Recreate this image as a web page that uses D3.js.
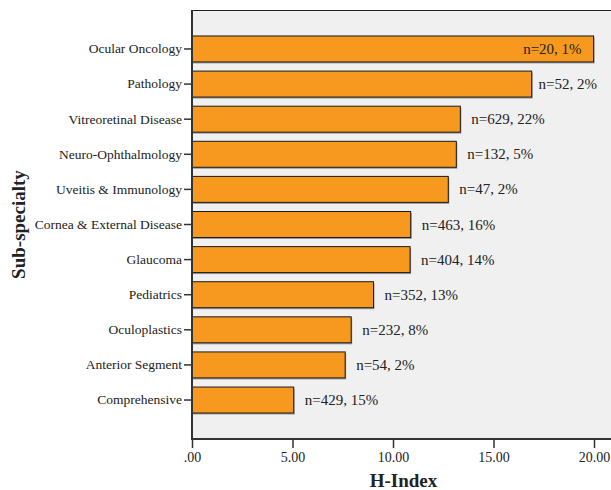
<!DOCTYPE html>
<html>
<head>
<meta charset="utf-8">
<script src="https://cdn.jsdelivr.net/npm/d3@7"></script>
<style>
  body { margin: 0; background: #fff; }
  text { font-family: "Liberation Serif", "Times New Roman", serif; fill: #222; }
</style>
</head>
<body>
<svg id="chart"></svg>
<script>
(function(d3) {
    "use strict";

    var categories = ["Ocular Oncology", "Pathology", "Vitreoretinal Disease", "Neuro-Ophthalmology",
        "Uveitis & Immunology", "Cornea & External Disease", "Glaucoma", "Pediatrics",
        "Oculoplastics", "Anterior Segment", "Comprehensive"];
    var hIndex = [19.98, 16.9, 13.35, 13.15, 12.75, 10.88, 10.85, 9.03, 7.92, 7.62, 5.06];
    var counts = [20, 52, 629, 132, 47, 463, 404, 352, 232, 54, 429];
    var shares = [1, 2, 22, 5, 2, 16, 14, 13, 8, 2, 15];
    var xTicks = [0, 5, 10, 15, 20];

    var W = 611, H = 490;
    var left = 192, top = 10, bottom = 439, right = 611;
    var pxPerUnit = 20.1; // 20.00 sits at ~594px

    var data = categories.map(function(c, i) {
        return { cat: c, value: hIndex[i], label: "n=" + counts[i] + ", " + shares[i] + "%" };
    });

    var svg = d3.select("#chart").attr("width", W).attr("height", H);

    var x = d3.scaleLinear()
        .domain([0, (right - left) / pxPerUnit])
        .range([left, right]);

    var y = d3.scaleBand()
        .domain(categories)
        .range([top, bottom])
        .paddingInner(0.26)
        .paddingOuter(0.74);

    // plot background
    svg.append("rect")
        .attr("x", left).attr("y", top)
        .attr("width", right - left + 2).attr("height", bottom - top)
        .attr("fill", "#f0f0f0");

    svg.append("line")
        .attr("x1", left).attr("x2", right + 2)
        .attr("y1", top + 0.5).attr("y2", top + 0.5)
        .attr("stroke", "#222").attr("stroke-width", 1);

    // bar shadows
    svg.append("g").selectAll("rect")
        .data(data).join("rect")
        .attr("x", x(0) + 1)
        .attr("y", d => y(d.cat) + 1.5)
        .attr("width", d => x(d.value) - x(0))
        .attr("height", y.bandwidth())
        .attr("fill", "#999");

    svg.append("g").selectAll("rect")
        .data(data).join("rect")
        .attr("x", x(0))
        .attr("y", d => y(d.cat))
        .attr("width", d => x(d.value) - x(0))
        .attr("height", y.bandwidth())
        .attr("fill", "#f7991f")
        .attr("stroke", "#1a1a1a")
        .attr("stroke-width", 1);

    // value labels
    svg.append("g").selectAll("text")
        .data(data).join("text")
        .attr("y", d => y(d.cat) + y.bandwidth() / 2 + 5)
        .attr("font-size", 15)
        .text(d => d.label)
        .attr("x", function(d) {
            var w = this.getComputedTextLength();
            var end = x(d.value);
            var px = Math.min(end + 11, 597 - w);
            if (px < end) px = end - 12 - w;
            return px;
        });

    // axes
    var xAxis = d3.axisBottom(x)
        .tickValues(xTicks)
        .tickSize(9)
        .tickPadding(4)
        .tickFormat(d => d === 0 ? ".00" : d3.format(".2f")(d));

    var gx = svg.append("g")
        .attr("transform", "translate(0," + bottom + ")")
        .call(xAxis);
    gx.select(".domain").remove();
    gx.append("line")
        .attr("x1", left - 1).attr("x2", right + 2)
        .attr("stroke", "#333").attr("stroke-width", 2);
    gx.selectAll(".tick line").attr("stroke", "#333").attr("stroke-width", 1.5);
    gx.selectAll(".tick text")
        .attr("font-family", "Liberation Serif")
        .attr("font-size", 14).attr("fill", "#222");

    var yAxis = d3.axisLeft(y).tickSize(8).tickPadding(2);
    var gy = svg.append("g")
        .attr("transform", "translate(" + left + ",0)")
        .call(yAxis);
    gy.select(".domain").remove();
    gy.append("line")
        .attr("y1", top).attr("y2", bottom + 1)
        .attr("stroke", "#333").attr("stroke-width", 2);
    gy.selectAll(".tick line").attr("stroke", "#333").attr("stroke-width", 1.5);
    gy.selectAll(".tick text")
        .attr("font-family", "Liberation Serif")
        .attr("font-size", 13.5).attr("fill", "#222");

    // titles
    svg.append("text")
        .attr("x", (left + right) / 2 + 2)
        .attr("y", 487)
        .attr("text-anchor", "middle")
        .attr("font-size", 19)
        .attr("font-weight", "bold")
        .text("H-Index");

    svg.append("text")
        .attr("transform", "translate(25," + ((top + bottom) / 2) + ") rotate(-90)")
        .attr("text-anchor", "middle")
        .attr("font-size", 19)
        .attr("font-weight", "bold")
        .text("Sub-specialty");

})(d3);
</script>
</body>
</html>
